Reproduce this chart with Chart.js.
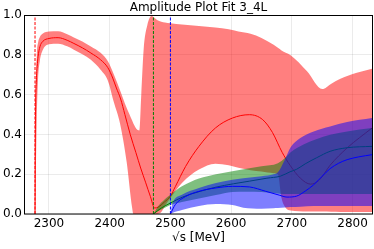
<!DOCTYPE html>
<html>
<head>
<meta charset="UTF-8">
<title>Amplitude Plot Fit 3_4L</title>
<script src="https://cdn.jsdelivr.net/npm/chart.js"></script>
<style>
  body { margin: 0; background: #fff; }
  #chart { display: block; }
</style>
</head>
<body>
<canvas id="chart" width="374" height="249"></canvas>
<script>
// thresholds (MeV), drawn as dashed verticals
const thresholds = [2277, 2472, 2500];
const thresholdColors = ['rgb(255,0,0)', 'rgb(0,128,0)', 'rgb(0,0,255)'];

const xTicks = [2300, 2400, 2500, 2600, 2700, 2800];

// red amplitude: error band + central curve
const redBandX  = [2277, 2278, 2280, 2282, 2285, 2290, 2300, 2315, 2330, 2341, 2355, 2369, 2385, 2397, 2407, 2417, 2428, 2437, 2439, 2445, 2449, 2452, 2456, 2462, 2469, 2472, 2478, 2485, 2491, 2500, 2519, 2547, 2574, 2596, 2612, 2632, 2650, 2670, 2677, 2683, 2690, 2698, 2725, 2750, 2765, 2780, 2807, 2832];
const redBandLo = [0, 0.15, 0.5, 0.68, 0.77, 0.825, 0.853, 0.856, 0.843, 0.826, 0.803, 0.775, 0.725, 0.67, 0.56, 0.455, 0.26, 0.03, 0, 0, 0, 0, 0, 0, 0, 0, 0, 0.01, 0.04, 0.08, 0.156, 0.223, 0.253, 0.245, 0.232, 0.22, 0.213, 0.205, 0.2, 0.08, 0.03, 0.018, 0.013, 0.012, 0.011, 0.01, 0.01, 0.01];
const redBandHi = [0, 0.55, 0.8, 0.86, 0.89, 0.907, 0.917, 0.918, 0.903, 0.887, 0.867, 0.842, 0.81, 0.767, 0.7, 0.622, 0.533, 0.47, 0.455, 0.424, 0.42, 0.6, 0.83, 0.95, 0.995, 0.99, 0.975, 0.966, 0.962, 0.958, 0.952, 0.945, 0.937, 0.928, 0.917, 0.906, 0.885, 0.85, 0.835, 0.822, 0.81, 0.798, 0.717, 0.628, 0.655, 0.68, 0.71, 0.73];
const redLineX  = [2277, 2277.4, 2278, 2279, 2280.5, 2282, 2285, 2290, 2300, 2315, 2330, 2341, 2355, 2369, 2385, 2397, 2405, 2411, 2418, 2425, 2434, 2443, 2451, 2459, 2467, 2474, 2480, 2490, 2500, 2508, 2525, 2547, 2574, 2602, 2630, 2652, 2668, 2684, 2697, 2714, 2731, 2745, 2763, 2791, 2832];
const redLineY  = [0, 0.35, 0.55, 0.66, 0.74, 0.79, 0.84, 0.868, 0.882, 0.886, 0.873, 0.857, 0.835, 0.809, 0.775, 0.735, 0.683, 0.633, 0.578, 0.5, 0.398, 0.31, 0.231, 0.16, 0.088, 0.03, 0.035, 0.06, 0.09, 0.137, 0.239, 0.34, 0.432, 0.482, 0.499, 0.474, 0.41, 0.31, 0.245, 0.18, 0.15, 0.17, 0.245, 0.332, 0.432];

// green amplitude
const greenBandX  = [2472, 2480, 2490, 2500, 2519, 2547, 2575, 2602, 2625, 2650, 2677, 2690, 2698, 2720, 2740, 2763, 2791, 2832];
const greenBandLo = [0, 0.015, 0.03, 0.045, 0.06, 0.078, 0.095, 0.11, 0.112, 0.11, 0.103, 0.1, 0.1, 0.1, 0.1, 0.1, 0.1, 0.1];
const greenBandHi = [0, 0.04, 0.072, 0.097, 0.139, 0.178, 0.2, 0.215, 0.228, 0.24, 0.255, 0.285, 0.31, 0.35, 0.376, 0.398, 0.415, 0.432];
const greenLineX  = [2472, 2485, 2500, 2520, 2549, 2575, 2604, 2630, 2659, 2681, 2697, 2708, 2722, 2741, 2763, 2791, 2832];
const greenLineY  = [0, 0.03, 0.055, 0.085, 0.114, 0.135, 0.152, 0.165, 0.18, 0.19, 0.212, 0.225, 0.252, 0.283, 0.315, 0.333, 0.34];

// blue amplitude
const blueBandX  = [2500, 2503, 2519, 2547, 2575, 2602, 2620, 2650, 2670, 2677, 2688, 2698, 2714, 2736, 2763, 2791, 2832];
const blueBandLo = [0, 0.005, 0.02, 0.04, 0.05, 0.045, 0.032, 0.027, 0.029, 0.03, 0.033, 0.035, 0.037, 0.04, 0.04, 0.04, 0.04];
const blueBandHi = [0, 0.05, 0.097, 0.131, 0.156, 0.172, 0.18, 0.19, 0.2, 0.21, 0.27, 0.335, 0.382, 0.415, 0.44, 0.462, 0.482];
const blueLineX  = [2500, 2508, 2525, 2547, 2575, 2602, 2630, 2657, 2679, 2692, 2708, 2722, 2736, 2750, 2763, 2777, 2791, 2810, 2832];
const blueLineY  = [0, 0.047, 0.088, 0.114, 0.131, 0.139, 0.136, 0.114, 0.095, 0.085, 0.09, 0.115, 0.147, 0.19, 0.228, 0.255, 0.273, 0.287, 0.298];

function pts(xs, ys) {
  return xs.map((x, i) => ({ x: x, y: ys[i] }));
}

const common = { pointRadius: 0, cubicInterpolationMode: 'monotone' };

const datasets = [
  // 0..2 red (drawn first, bottom)
  { ...common, data: pts(redBandX, redBandLo), borderWidth: 0, borderColor: 'transparent', fill: false, order: 10 },
  { ...common, data: pts(redBandX, redBandHi), borderWidth: 0, borderColor: 'transparent', fill: '-1', backgroundColor: 'rgba(255,0,0,0.5)', order: 9 },
  { ...common, data: pts(redLineX, redLineY), borderWidth: 1, borderColor: 'rgb(255,0,0)', fill: false, order: 8 },
  // 3..5 green
  { ...common, data: pts(greenBandX, greenBandLo), borderWidth: 0, borderColor: 'transparent', fill: false, order: 7 },
  { ...common, data: pts(greenBandX, greenBandHi), borderWidth: 0, borderColor: 'transparent', fill: '-1', backgroundColor: 'rgba(0,128,0,0.5)', order: 6 },
  { ...common, data: pts(greenLineX, greenLineY), borderWidth: 1, borderColor: 'rgb(0,128,0)', fill: false, order: 5 },
  // 6..8 blue
  { ...common, data: pts(blueBandX, blueBandLo), borderWidth: 0, borderColor: 'transparent', fill: false, order: 4 },
  { ...common, data: pts(blueBandX, blueBandHi), borderWidth: 0, borderColor: 'transparent', fill: '-1', backgroundColor: 'rgba(0,0,255,0.5)', order: 3 },
  { ...common, data: pts(blueLineX, blueLineY), borderWidth: 1, borderColor: 'rgb(0,0,255)', fill: false, order: 2 }
];

thresholds.forEach((t, i) => {
  datasets.push({
    data: [{ x: t, y: 0 }, { x: t, y: 1 }],
    borderColor: thresholdColors[i],
    borderWidth: 1,
    borderDash: [3, 1.5],
    pointRadius: 0,
    fill: false,
    order: 0
  });
});

// black box around the plot area
const frame = {
  id: 'frame',
  afterDraw(chart) {
    const { ctx, chartArea: a } = chart;
    ctx.save();
    ctx.strokeStyle = '#000';
    ctx.lineWidth = 1;
    ctx.strokeRect(Math.round(a.left) - 0.5, Math.round(a.top) + 0.5,
                   Math.round(a.right - a.left) + 1, Math.round(a.bottom - a.top) - 0.5);
    ctx.restore();
  }
};

Chart.defaults.font.family = "'DejaVu Sans', sans-serif";
Chart.defaults.font.size = 12;
Chart.defaults.color = '#000';

new Chart(document.getElementById('chart'), {
  type: 'line',
  data: { datasets: datasets },
  options: {
    responsive: false,
    animation: false,
    layout: { padding: { left: 0, right: 2, top: 0, bottom: 0 } },
    plugins: {
      legend: { display: false },
      tooltip: { enabled: false },
      title: {
        display: true,
        text: 'Amplitude Plot Fit 3_4L',
        fullSize: false,
        font: { size: 12, weight: 'normal', lineHeight: 1.25 },
        padding: { top: 0, bottom: 0 }
      }
    },
    scales: {
      x: {
        type: 'linear',
        min: 2260.5,
        max: 2832,
        z: 1,
        afterFit(scale) { scale.height = 35; },
        afterBuildTicks(scale) { scale.ticks = xTicks.map(v => ({ value: v })); },
        grid: { color: 'rgba(0,0,0,0.08)', drawTicks: false },
        border: { display: false },
        ticks: { maxRotation: 0, autoSkip: false, padding: 3, callback: v => String(v) },
        title: { display: true, text: '√s [MeV]', padding: { top: 4, bottom: 4 } }
      },
      y: {
        min: 0,
        max: 1,
        z: 1,
        afterFit(scale) { scale.width = 25; },
        grid: { color: 'rgba(0,0,0,0.08)', drawTicks: false },
        border: { display: false },
        ticks: { stepSize: 0.2, padding: 3, callback: v => v.toFixed(1) }
      }
    }
  },
  plugins: [frame]
});
</script>
</body>
</html>
